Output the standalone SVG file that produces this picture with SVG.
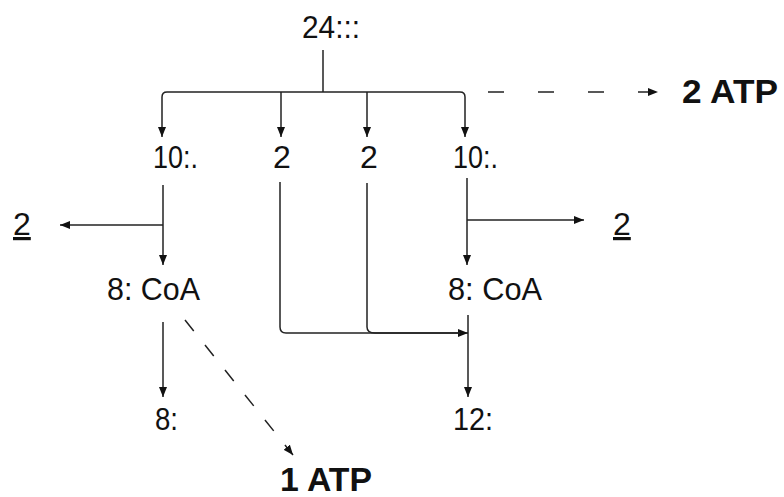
<svg xmlns="http://www.w3.org/2000/svg" width="784" height="497" viewBox="0 0 784 497">
<style>
.t{font-family:"Liberation Sans",Arial,sans-serif;font-size:32px;fill:#111}
.b{font-family:"Liberation Sans",Arial,sans-serif;font-size:33px;font-weight:bold;fill:#111}
.c{fill:none;stroke:#222;stroke-width:1.5}
.d{fill:none;stroke:#222;stroke-width:1.5;stroke-dasharray:16 34}
</style>
<defs>
<marker id="ah" markerUnits="userSpaceOnUse" markerWidth="10" markerHeight="8" refX="10" refY="4" orient="auto">
<path d="M0,0 L10,4 L0,8 z" fill="#111"/>
</marker>
</defs>
<g id="connectors">
<path class="c" d="M323,50 V92"/>
<path class="c" d="M323,92 H167 Q162,92 162,97 V137" marker-end="url(#ah)"/>
<path class="c" d="M323,92 H460 Q465,92 465,97 V137" marker-end="url(#ah)"/>
<path class="c" d="M281,92 V137" marker-end="url(#ah)"/>
<path class="c" d="M367,92 V137" marker-end="url(#ah)"/>
<path class="d" d="M488,92 H658" marker-end="url(#ah)"/>
<path class="c" d="M163,185 V265" marker-end="url(#ah)"/>
<path class="c" d="M163,225 H60" marker-end="url(#ah)"/>
<path class="c" d="M467,178 V265" marker-end="url(#ah)"/>
<path class="c" d="M467,220 H584" marker-end="url(#ah)"/>
<path class="c" d="M163,322 V397" marker-end="url(#ah)"/>
<path class="d" d="M185,320 L293,455" marker-end="url(#ah)" style="stroke-dasharray:14 18"/>
<path class="c" d="M468,315 V397" marker-end="url(#ah)"/>
<path class="c" d="M280,182 V327 Q280,333 286,333 H468" marker-end="url(#ah)"/>
<path class="c" d="M367,183 V327 Q367,333 375,333 H460"/>
</g>
<g id="n24"><text class="t" x="302" y="38" font-size="34" textLength="58" lengthAdjust="spacingAndGlyphs">24:::</text></g>
<g id="n10a"><text class="t" x="153" y="168" textLength="45" lengthAdjust="spacingAndGlyphs">10:.</text></g>
<g id="n2a"><text class="t" x="273" y="168">2</text></g>
<g id="n2b"><text class="t" x="360" y="168">2</text></g>
<g id="n10b"><text class="t" x="453" y="168" textLength="45" lengthAdjust="spacingAndGlyphs">10:.</text></g>
<g id="n2left"><text class="t" x="13" y="235" text-decoration="underline">2</text></g>
<g id="n2right"><text class="t" x="613" y="235" text-decoration="underline">2</text></g>
<g id="n8coaA"><text class="t" x="107" y="300" textLength="93" lengthAdjust="spacingAndGlyphs">8: CoA</text></g>
<g id="n8coaB"><text class="t" x="448" y="300" textLength="94" lengthAdjust="spacingAndGlyphs">8: CoA</text></g>
<g id="n8"><text class="t" x="155" y="430" textLength="23" lengthAdjust="spacingAndGlyphs">8:</text></g>
<g id="n12"><text class="t" x="453" y="430" textLength="40" lengthAdjust="spacingAndGlyphs">12:</text></g>
<g id="atp1"><text class="b" x="280" y="491" textLength="92" lengthAdjust="spacingAndGlyphs">1 ATP</text></g>
<g id="atp2"><text class="b" x="682" y="103" textLength="96" lengthAdjust="spacingAndGlyphs">2 ATP</text></g>
</svg>
